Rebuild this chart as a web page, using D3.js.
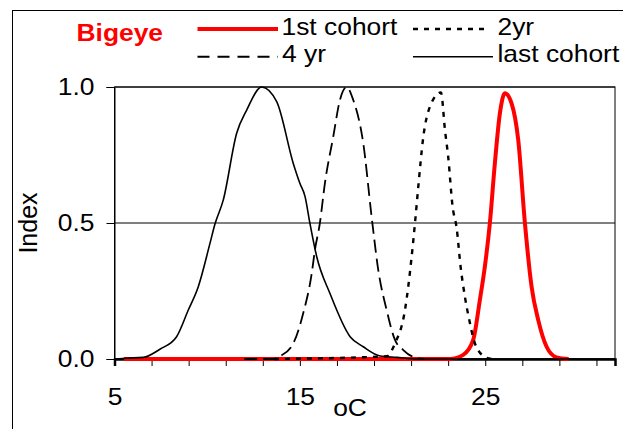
<!DOCTYPE html>
<html><head><meta charset="utf-8">
<script src="https://cdn.jsdelivr.net/npm/d3@7"></script>
<style>body{margin:0;background:#fff}svg{display:block}text{font-family:"Liberation Sans",Arial,sans-serif}</style>
</head><body>
<svg id="c" width="623" height="429"></svg>
<script>
// Data
const lastX  = [5, 5.67, 6.55, 7.45, 8.35, 8.98, 9.52, 10.15, 10.42, 10.87, 11.59, 12.13, 12.94, 13.75, 14.64, 15.0, 15.28, 15.54, 15.91, 16.63, 17.71, 18.42, 19.33, 20.22, 21.3, 32];
const lastV  = [0, 0.003, 0.006, 0.036, 0.082, 0.18, 0.266, 0.425, 0.496, 0.585, 0.83, 0.915, 1.0, 0.946, 0.72, 0.646, 0.597, 0.5, 0.376, 0.24, 0.082, 0.045, 0.011, 0.006, 0, 0];
const fourX  = [12, 13.57, 13.93, 14.64, 15.18, 15.64, 15.81, 16.08, 16.35, 16.8, 17.16, 17.52, 17.88, 18.42, 18.87, 19.23, 19.68, 20.13, 20.58, 21.3, 21.7];
const fourV  = [0, 0, 0.01, 0.057, 0.168, 0.315, 0.4, 0.5, 0.646, 0.817, 0.952, 1.0, 0.952, 0.793, 0.523, 0.327, 0.18, 0.07, 0.033, 0.003, 0];
const twoX   = [13.6, 19.68, 20.13, 20.67, 21.03, 21.21, 21.39, 21.66, 22.02, 22.61, 22.83, 23.0, 23.24, 23.46, 23.67, 23.9, 24.14, 24.44, 24.98, 25.36];
const twoV   = [0, 0.01, 0.057, 0.18, 0.376, 0.5, 0.635, 0.817, 0.928, 0.98, 0.84, 0.744, 0.56, 0.48, 0.34, 0.23, 0.143, 0.058, 0.008, 0];
const firstX = [5.5, 23.1, 23.81, 24.35, 24.71, 24.98, 25.25, 25.52, 25.79, 26.06, 26.42, 26.78, 27.14, 27.5, 27.86, 28.31, 28.85, 29.5];
const firstV = [0, 0, 0.015, 0.07, 0.217, 0.34, 0.5, 0.72, 0.903, 0.977, 0.94, 0.805, 0.5, 0.266, 0.143, 0.045, 0.006, 0];
const xTickMarks = [5, 7, 9, 11, 13, 15, 17, 19, 21, 23, 25, 27, 29, 31];
const xTickLabels = ["5", "15", "25"];
const yTicks = [0, 0.5, 1.0];
const yTickLabels = ["0.0", "0.5", "1.0"];
const seriesNames = ["1st cohort", "2yr", "4 yr", "last cohort"];
const title = "Bigeye";

const SX = 1.1; // horizontal stretch of the original picture's text
const svg = d3.select("#c");
const L = 114.5, R = 615, T = 87, B = 359;
const x = d3.scaleLinear().domain([5, 32]).range([L, R]);
const y = d3.scaleLinear().domain([0, 1]).range([B, T]);

function stretch(sel) {
  sel.each(function() {
    const t = d3.select(this);
    const tx = +t.attr("x") || 0;
    t.attr("x", 0).attr("transform", `translate(${tx},0) scale(${SX},1)`);
  });
}

// outer frame
svg.append("rect").attr("x", 12.5).attr("y", 10.5).attr("width", 700).attr("height", 500)
  .attr("fill", "none").attr("stroke", "#000").attr("stroke-width", 1);

// plot area border
svg.append("rect").attr("x", L).attr("y", T).attr("width", R - L).attr("height", B - T)
  .attr("fill", "none").attr("stroke", "#000").attr("stroke-width", 1);

// gridlines
svg.append("g").selectAll("line").data(yTicks.filter(d => d > 0)).join("line")
  .attr("x1", L).attr("x2", R).attr("y1", d => y(d)).attr("y2", d => y(d))
  .attr("stroke", "#000").attr("stroke-width", 1);

// y axis
const yAxis = d3.axisLeft(y).tickValues(yTicks).tickSize(8).tickFormat((d, i) => yTickLabels[i]).tickPadding(12);
const gy = svg.append("g").attr("transform", `translate(${L},0)`).call(yAxis);
gy.select(".domain").attr("stroke", "#000");
gy.selectAll(".tick line").attr("stroke", "#000");
gy.selectAll("text").attr("font-size", 24).attr("fill", "#000").attr("font-family", "Liberation Sans, Arial, sans-serif").call(stretch);

// x axis
const xAxis = d3.axisBottom(x).tickValues(xTickMarks).tickSize(7)
  .tickFormat(d => xTickLabels.includes(String(d)) ? String(d) : "").tickPadding(22);
const gx = svg.append("g").attr("transform", `translate(0,${B})`).call(xAxis);
gx.select(".domain").attr("stroke", "#000").attr("stroke-width", 2.5);
gx.selectAll(".tick line").attr("stroke", "#000");
gx.selectAll("text").attr("font-size", 24).attr("fill", "#000").attr("font-family", "Liberation Sans, Arial, sans-serif").call(stretch);

// lines
const line = d3.line().x(d => x(d[0])).y(d => y(d[1])).curve(d3.curveMonotoneX);
const zip = (a, b) => a.map((v, i) => [v, b[i]]);
svg.append("path").datum(zip(firstX, firstV)).attr("d", line).attr("fill", "none")
  .attr("stroke", "#ff0000").attr("stroke-width", 4).attr("stroke-linejoin", "round");
svg.append("path").datum(zip(lastX, lastV)).attr("d", line).attr("fill", "none")
  .attr("stroke", "#000").attr("stroke-width", 1.6);
svg.append("path").datum(zip(fourX, fourV)).attr("d", line).attr("fill", "none")
  .attr("stroke", "#000").attr("stroke-width", 1.8).attr("stroke-dasharray", "13,6");
svg.append("path").datum(zip(twoX, twoV)).attr("d", line).attr("fill", "none")
  .attr("stroke", "#000").attr("stroke-width", 2.4).attr("stroke-dasharray", "5,6");

// axis titles
svg.append("text").attr("x", 350).attr("y", 416).attr("text-anchor", "middle")
  .attr("font-size", 24).call(stretch).text("oC");
svg.append("text").attr("transform", "translate(37,223) rotate(-90)").attr("text-anchor", "middle")
  .attr("font-size", 25).text("Index");

// legend
svg.append("text").attr("x", 76.5).attr("y", 41)
  .attr("font-size", 24).attr("font-weight", "bold").attr("fill", "#ff0000").call(stretch).text(title);
const leg = [
  {x1: 197.5, x2: 278, y: 29, ty: 35, tx: 281.5, color: "#ff0000", w: 4, dash: null, name: seriesNames[0]},
  {x1: 413, x2: 489, y: 29, ty: 35, tx: 497.5, color: "#000", w: 2.4, dash: "5,6", name: seriesNames[1]},
  {x1: 197.5, x2: 278, y: 56.7, ty: 62, tx: 282, color: "#000", w: 2, dash: "12,8", name: seriesNames[2]},
  {x1: 413, x2: 493, y: 56.7, ty: 62, tx: 497.5, color: "#000", w: 1.6, dash: null, name: seriesNames[3]},
];
const lg = svg.append("g");
leg.forEach(d => {
  lg.append("line").attr("x1", d.x1).attr("x2", d.x2).attr("y1", d.y).attr("y2", d.y)
    .attr("stroke", d.color).attr("stroke-width", d.w).attr("stroke-dasharray", d.dash);
  lg.append("text").attr("x", d.tx).attr("y", d.ty).attr("font-size", 24).call(stretch).text(d.name);
});
</script>
</body></html>
